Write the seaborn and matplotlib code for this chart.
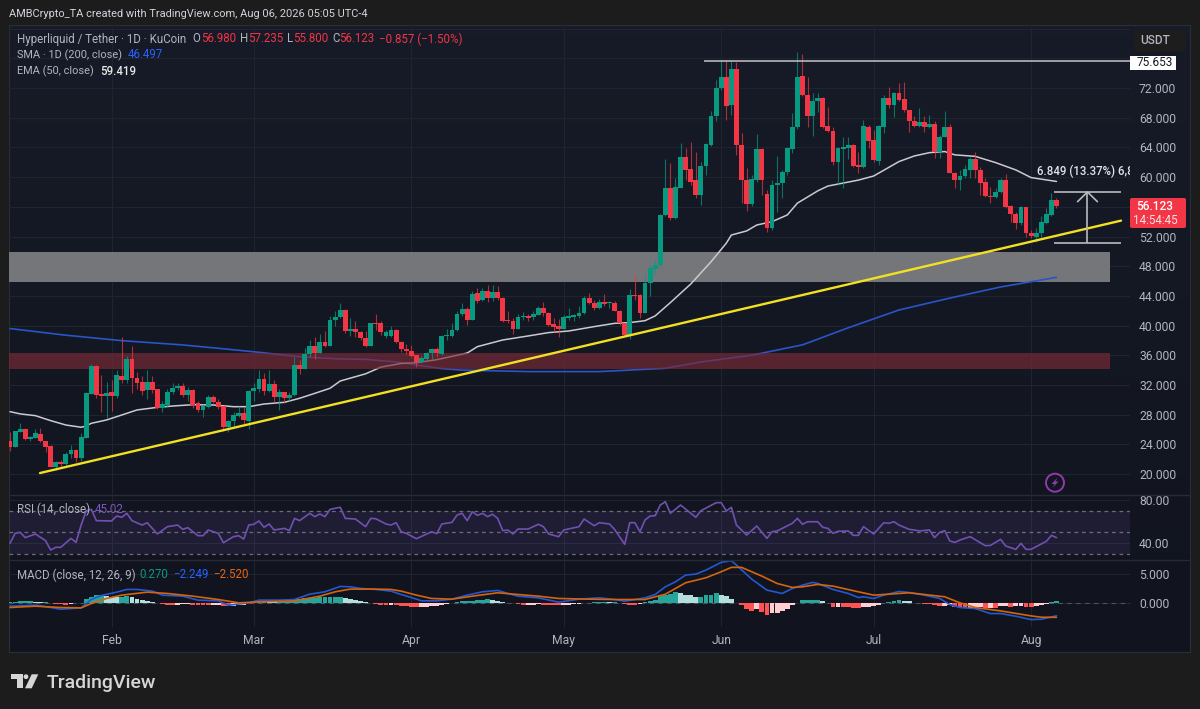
#!/usr/bin/env python3
import numpy as np
import matplotlib
matplotlib.use("Agg")
import matplotlib.pyplot as plt
from matplotlib.colors import LinearSegmentedColormap
from matplotlib.patches import Circle, FancyBboxPatch, Polygon, Rectangle
from matplotlib.transforms import IdentityTransform
import seaborn as sns

# daily candles, Jan 12 to Aug 06
opens = [24.45,23.7,25.7,26.0,24.7,24.9,25.4,24.4,23.8,21.0,
         21.6,21.3,22.65,23.3,22.2,24.9,30.8,34.5,30.8,30.55,
         31.0,30.55,33.25,32.7,35.5,33.0,32.35,31.3,32.4,31.4,
         28.85,29.3,31.05,31.55,31.85,30.65,31.3,29.5,28.6,29.0,
         30.4,29.65,29.1,26.35,27.1,27.85,28.2,27.2,31.15,31.5,
         32.85,31.2,32.1,30.4,31.05,30.2,30.65,34.7,34.15,36.2,
         37.25,36.35,37.8,37.25,40.7,41.2,42.1,39.3,39.5,39.2,
         38.3,37.25,40.3,40.3,38.65,38.6,39.4,37.85,36.8,36.6,
         36.0,35.15,35.5,36.3,36.85,36.2,38.6,38.6,39.4,41.5,
         42.2,40.75,44.35,43.45,44.65,43.75,44.55,43.75,40.65,40.65,
         39.6,41.1,41.3,41.1,41.45,42.4,41.65,40.15,39.95,39.6,
         41.05,41.1,41.35,41.65,43.65,43.1,42.4,43.2,43.0,43.0,
         42.0,40.3,38.75,44.1,44.1,41.75,45.7,47.65,48.1,54.9,
         58.5,54.55,58.6,62.75,61.05,59.6,57.6,61.55,64.35,68.25,
         72.0,73.45,69.7,74.55,64.35,59.6,56.4,59.6,63.75,57.7,
         53.2,58.9,59.2,60.65,63.8,66.7,73.6,71.1,68.25,70.2,
         70.7,66.9,66.15,62.1,63.8,63.98,64.35,61.65,61.35,66.8,
         65.0,62.2,66.8,70.6,69.7,71.3,70.5,69.05,67.55,66.9,
         67.4,66.7,67.15,63.35,65.45,66.8,60.6,59.6,60.1,61.0,
         62.4,60.9,59.35,57.4,57.3,58.05,59.6,56.1,55.05,53.8,
         55.95,52.5,52.0,52.45,53.8,54.9,56.98]
highs = [25.7,25.8,26.9,26.15,25.1,26.0,26.2,24.5,23.9,21.8,
         21.9,23.0,23.9,23.4,25.5,31.0,34.8,34.7,33.3,32.4,
         32.6,34.0,38.5,35.9,37.2,33.7,33.2,34.0,33.2,31.5,
         29.9,31.4,32.3,32.3,32.3,31.7,31.4,29.9,29.4,30.6,
         30.7,30.1,29.2,27.3,28.4,29.1,29.0,31.3,32.3,34.0,
         33.6,34.0,32.7,31.5,31.1,31.0,35.7,35.3,37.0,38.0,
         38.5,38.8,39.3,41.3,42.0,43.0,42.2,41.0,40.6,39.3,
         39.3,40.4,41.6,40.6,39.4,39.9,39.6,37.9,37.5,37.4,
         36.1,35.9,36.5,37.0,37.1,38.7,39.6,40.4,41.9,43.0,
         42.5,44.6,45.0,45.1,45.4,45.4,45.3,43.9,41.9,41.0,
         41.6,41.8,41.5,41.9,42.6,43.2,41.8,41.0,40.9,41.4,
         42.3,41.6,42.7,44.0,44.4,43.4,43.6,44.2,43.3,43.3,
         42.1,40.4,44.9,46.8,44.3,47.0,48.2,49.0,55.1,62.5,
         61.9,59.85,64.55,63.9,64.8,63.35,62.1,64.55,68.9,73.1,
         75.8,75.6,75.6,75.5,65.9,61.2,60.3,65.8,63.9,58.3,
         59.6,62.8,61.0,64.1,68.6,76.8,76.6,73.55,71.3,71.4,
         70.8,69.5,66.8,64.1,65.45,65.45,64.4,63.45,67.7,67.0,
         66.35,67.05,71.1,72.2,71.5,72.65,72.85,69.1,68.3,69.3,
         68.3,68.4,67.5,65.7,68.85,67.2,60.7,61.0,61.65,62.75,
         63.45,61.3,59.85,58.7,58.6,59.85,60.4,56.2,55.35,56.05,
         56.0,52.9,53.1,54.7,55.8,57.9,57.235]
lows = [23.15,23.7,25.6,24.6,24.5,24.8,24.3,23.0,21.0,20.5,
        21.0,20.9,22.2,21.6,21.8,24.9,30.8,30.2,28.4,27.5,
        28.5,30.3,32.2,32.3,30.9,31.4,30.7,30.1,30.9,28.8,
        28.3,29.0,30.8,31.3,30.4,29.9,28.9,28.4,27.7,28.9,
        29.5,28.8,25.8,25.7,26.5,27.7,26.7,26.0,29.9,31.0,
        30.7,31.0,29.7,28.6,29.5,29.8,30.5,33.5,34.1,35.8,
        35.5,36.3,37.1,37.2,40.0,41.0,39.0,38.6,38.5,38.1,
        37.1,37.2,39.4,38.7,38.3,38.4,37.7,36.5,36.2,35.7,
        34.4,35.0,35.3,35.5,35.7,36.0,38.0,38.4,39.3,41.3,
        40.1,40.7,43.0,43.3,43.2,43.3,43.5,40.5,40.4,38.8,
        39.5,40.8,40.6,40.8,41.4,41.3,39.9,39.1,38.5,39.5,
        40.7,40.6,41.0,41.5,42.9,42.1,42.2,42.6,42.4,41.9,
        40.1,38.6,38.2,43.5,41.0,41.7,44.0,47.0,47.9,54.8,
        54.2,54.3,58.5,59.6,58.95,57.2,56.25,60.3,64.2,67.5,
        71.8,67.7,68.4,63.0,56.5,55.5,56.1,59.4,57.6,52.65,
        52.9,55.35,57.15,60.3,63.2,66.5,70.9,66.8,65.6,68.8,
        66.6,66.05,61.65,58.95,58.5,62.5,61.3,60.5,61.2,63.9,
        62.1,61.65,65.9,69.3,68.15,70.2,68.8,66.1,66.8,66.7,
        66.05,66.6,62.55,62.55,65.4,60.5,58.5,58.2,59.85,59.85,
        59.85,57.6,57.3,56.5,57.15,57.9,55.9,54.0,53.0,53.6,
        51.9,51.8,51.2,52.0,53.7,54.8,55.8]
closes = [23.68,25.8,26.0,24.7,25.0,25.5,24.4,23.7,21.0,21.6,
          21.4,22.7,23.2,22.2,25.0,30.9,34.5,30.7,30.55,30.9,
          30.5,33.3,32.7,35.5,33.0,32.3,31.2,32.4,31.3,28.85,
          29.4,31.1,31.6,31.85,30.65,31.3,29.3,28.6,29.1,30.4,
          29.65,29.0,26.3,27.15,27.95,28.2,27.3,31.2,31.55,32.85,
          31.2,32.1,30.4,31.1,30.2,30.7,34.7,34.15,36.2,37.25,
          36.35,37.8,37.25,40.75,41.2,42.1,39.3,39.5,39.1,38.3,
          37.25,40.3,40.25,39.1,39.2,39.4,37.85,36.8,36.6,35.9,
          35.05,35.6,36.35,36.85,36.25,38.6,38.75,39.4,41.55,42.2,
          40.75,44.25,43.35,44.65,43.75,44.55,43.75,40.6,40.6,39.6,
          41.2,41.3,41.05,41.5,42.4,41.65,40.1,39.85,39.6,41.2,
          41.35,41.4,41.75,43.65,43.1,42.4,43.2,42.85,43.1,42.0,
          40.3,38.75,44.1,44.05,41.75,45.7,47.7,48.1,54.9,58.5,
          54.55,58.65,62.75,61.0,59.4,57.6,61.55,64.4,68.25,72.0,
          73.45,69.65,74.55,64.35,59.6,56.4,59.7,63.75,59.6,53.2,
          58.95,59.25,60.75,63.9,66.8,73.55,71.1,68.25,70.25,70.7,
          66.8,66.15,62.1,63.9,64.1,64.35,61.55,61.35,66.9,64.9,
          62.3,66.9,70.6,69.7,71.3,70.4,69.05,67.5,66.9,67.4,
          66.7,67.2,63.35,65.45,66.8,60.6,59.6,60.15,61.05,62.4,
          60.9,59.25,57.4,57.3,58.05,59.6,56.0,55.05,53.8,55.95,
          52.45,52.05,52.5,53.9,55.0,56.95,56.123]

ema_idx = [0,2,5,8,11,14,15,16,19,22,25,29,32,36,40,44,47,50,54,57,60,63,65,
           70,73,77,80,84,90,92,97,102,106,110,115,119,122,125,127,130,134,138,
           141,142,145,147,150,153,155,159,161,167,170,175,178,181,184,186,190,
           194,198,201,206]
ema_vals = [28.4,28.1,27.86,27.19,26.6,26.3,26.47,26.83,27.28,27.95,28.63,28.98,
            29.16,29.34,29.3,29.07,29.07,29.43,29.66,30.2,30.87,31.55,32.53,
            33.5,34.4,34.9,35.0,35.4,36.3,37.16,38.06,38.6,39.05,39.27,39.86,
            40.3,40.4,40.66,41.3,43.1,45.6,48.6,51.1,52.2,52.75,53.55,54.0,54.9,
            56.5,58.15,58.8,59.6,60.15,62.1,62.85,63.3,63.45,63.0,62.8,61.96,
            60.97,59.94,59.419]

sma_idx = [0,11,22,34,41,49,57,65,70,76,80,85,89,102,116,129,136,146,156,165,175,185,195,206]
sma_vals = [39.6,38.7,37.97,37.39,36.94,36.4,35.8,35.5,35.45,35.1,34.7,34.2,34.0,
            33.8,33.8,34.24,35.1,36.0,37.4,39.7,42.1,43.7,45.2,46.497]

rsi_idx = [0,1,2,3,5,7,8,9,10,12,13,14,15,16,17,20,21,22,23,24,26,27,29,31,33,34,35,
           37,38,39,41,42,44,45,46,47,48,49,50,51,52,54,55,56,57,59,60,61,62,63,65,66,
           68,70,71,72,74,75,76,77,78,80,83,84,85,87,88,89,90,91,92,93,94,95,96,97,98,
           99,100,102,104,105,106,108,109,112,113,115,116,118,119,121,122,123,124,125,
           126,127,128,129,130,132,135,136,139,140,141,142,143,145,147,149,150,151,154,
           155,156,157,159,160,161,162,163,165,166,167,168,170,172,173,174,175,177,178,
           179,181,182,183,184,185,186,187,189,192,193,195,196,198,199,200,201,203,204,
           205,206]
rsi_vals = [39.7,49,49.9,45,48.4,42.2,33.5,36,36,44.3,40.6,56.7,70,71.3,60.8,60.5,65.1,
            63.9,67.6,60.8,56.7,58.9,48.4,55.2,56.7,52.7,54.3,46.8,46.8,52.1,49,40.3,
            45.9,46.8,43.7,56.7,57.4,60.5,54.6,57.7,52.1,53.6,51.5,62.9,60.8,67.6,64.5,
            67,64.5,71.3,73.2,62.9,62.3,55.2,62.9,62.6,57.7,56.7,58.9,50.5,49,44,50.5,
            48.7,57.7,59.2,66,67.6,60.8,69.1,65.7,67.6,64.5,66.7,62.9,51.5,52.1,48.4,
            53,53,57.4,55.2,48.4,45.9,52.1,55.2,62.3,56.1,58.9,57.7,52.7,38.8,58.9,58.9,
            50.5,61.4,65.1,65.4,75.3,78.4,67.6,75.3,63.9,70,77.5,77.5,69.8,73.2,56.7,
            47.4,55.8,44.3,50.5,51.2,58.3,63,57.4,59.8,59.8,54.6,53.6,49,50.9,51.2,47.1,
            47.1,55.2,48.4,58.9,58.3,59.8,56.7,52.7,52.1,51.2,52.1,45,49.9,51.5,41.9,
            40.6,42.8,45.9,37.5,37.8,43.4,37.2,34.1,39.7,34.1,34.1,39.1,41.6,47.1,45.02]

macd_idx = [0,5,8,10,14,16,18,21,23,25,28,30,34,37,41,43,47,49,53,56,59,62,65,67,69,72,75,
            77,79,81,84,87,90,93,96,98,100,104,108,112,116,119,121,125,127,129,131,133,135,
            137,140,142,143,146,149,152,154,156,158,159,162,165,167,168,170,172,175,177,180,
            183,185,187,190,193,195,198,201,203,206]
macd_vals = [-0.58,-0.41,-0.81,-1.11,-0.87,0.58,1.28,1.86,2.33,2.33,2.04,1.34,1.16,0.47,
             0.35,-0.41,0,0.47,0.47,0.58,1.51,1.92,2.85,2.79,2.5,2.33,2.04,1.45,0.93,0.35,
             0.35,0.64,1.34,1.92,2.15,1.63,1.16,0.87,0.12,0.64,0.87,0.58,0.29,0.87,1.45,
             2.79,3.66,4.83,5.0,5.7,7.04,7.33,6.57,4.13,2.21,1.63,2.5,3.08,3.55,3.37,2.33,
             1.63,0.93,1.05,0.76,1.34,1.98,1.8,1.34,0.76,-0.29,-0.81,-0.99,-1.86,-1.86,
             -2.33,-2.91,-2.85,-2.249]
signal_idx = [0,5,10,14,16,19,22,27,31,36,41,45,49,56,61,64,67,72,75,77,80,83,87,91,96,100,
              104,108,114,119,125,129,133,137,140,142,144,148,151,154,156,159,162,167,170,
              173,177,184,187,190,195,201,203,206]
signal_vals = [-0.81,-0.58,-0.81,-0.87,-0.12,0.76,1.34,1.86,1.63,1.16,0.58,0,0.17,0.35,1.16,
               1.92,2.39,2.39,2.33,2.04,1.34,0.76,0.64,1.16,1.75,1.45,1.16,0.76,0.64,0.58,
               0.58,1.51,3.49,4.36,5.41,6.17,6.17,4.65,3.37,2.68,2.79,3.2,2.91,1.92,1.34,
               1.51,1.75,1.05,0,-0.81,-1.4,-2.27,-2.5,-2.52]
hist_vals = [.2,.2,.25,.25,.25,.15,.1,.1,-.1,-.2,-.25,-.3,-.2,-.1,-.1,
             .6,1.1,1.3,1.3,1.2,1.1,1.0,1.0,1.2,.95,.7,.5,.3,.15,.05,
             -.2,-.3,-.35,-.3,-.25,-.2,-.3,-.35,-.4,-.45,-.45,-.4,-.5,-.6,-.55,-.45,-.35,-.1,
             .1,.3,.3,.25,.2,.2,.3,.35,.6,.7,.8,.9,.9,.95,1.0,1.0,1.05,1.1,
             .85,.6,.45,.3,.1,-.1,-.2,-.3,-.4,-.4,
             -.45,-.5,-.6,-.7,-.8,-.75,-.7,-.6,-.5,-.3,-.15,-.05,
             .1,.25,.35,.4,.5,.55,.6,.55,.4,.2,.05,
             -.1,-.25,-.3,-.3,-.3,-.25,-.3,-.35,-.4,-.45,-.45,-.35,-.25,-.15,-.05,
             .05,.1,.15,.15,.1,.1,.05,-.2,-.3,-.35,-.2,
             .1,.3,.5,1.2,1.3,1.5,1.9,1.65,1.45,1.3,1.05,1.05,1.3,1.35,1.65,1.3,1.2,.6,.05,
             -.4,-1.15,-1.4,-1.15,-1.55,-2.05,-1.85,-1.7,-1.45,-1.0,-.4,-.05,
             .45,.45,.5,.55,.3,.05,
             -.7,-.7,-.75,-.8,-.85,-.95,-.8,-.7,-.6,-.4,-.1,
             .2,.4,.45,.35,.25,.05,
             -.1,-.15,-.2,-.4,-.6,-.5,-.4,-.7,-.85,-.9,-.85,-.8,-.8,-.85,-.85,-.9,-.6,-.6,
             -.65,-.6,-.6,-.65,-.7,-.6,-.35,-.2,.2,.27]

month_ticks = [20, 48, 79, 109, 140, 170, 201]
month_labels = ["Feb", "Mar", "Apr", "May", "Jun", "Jul", "Aug"]
price_ticks = list(range(20, 84, 4))
hidden_prices = [56, 76, 80]  # sit under the price tags and the USDT button

trend_x = [5.9, 218.7]
trend_y = [20.13, 54.14]
gray_band = (45.9, 49.92)
red_band = (34.15, 36.35)
band_end = 216.5
resistance = 75.653
measure_hi = 58.0
measure_lo = 51.17

UP = "#089981"
DOWN = "#f23645"
GRID = "#1f2431"
TXT = "#b2b5be"
W, H = 1200, 709


def px(x, y):
    return x / W, 1 - y / H


def add_pane(left, top, right, bottom):
    return fig.add_axes([left / W, 1 - bottom / H, (right - left) / W, (bottom - top) / H])


def note(x, y, s, color=TXT, size=8.3, **kw):
    fig.text(*px(x, y), s, color=color, fontsize=size, va="center", **kw)


sns.set_theme(style="dark")
plt.rcParams["font.family"] = ["Roboto", "DejaVu Sans"]

fig = plt.figure(figsize=(12, 7.09), dpi=100, facecolor="#1c1c1c")

bg = add_pane(9, 25, 1190, 652)
pane_cmap = LinearSegmentedColormap.from_list("pane", ["#161b27", "#11141e"])
bg.imshow(np.linspace(0, 1, 64).reshape(-1, 1), cmap=pane_cmap, aspect="auto")
bg.set_xticks([])
bg.set_yticks([])
for s in bg.spines.values():
    s.set_color("#2a2e39")
    s.set_linewidth(0.8)

ax = add_pane(9, 25, 1130, 495)
ax_rsi = add_pane(9, 495, 1130, 560)
ax_macd = add_pane(9, 560, 1130, 627)

for a in (ax, ax_rsi, ax_macd):
    a.set_facecolor("none")
    a.set_xlim(-0.2, 220.47)
    a.set_xticks(month_ticks)
    a.yaxis.tick_right()
    a.tick_params(axis="y", length=0, pad=6.5, labelsize=8.7, labelcolor=TXT)
    a.grid(True, color=GRID, linewidth=0.8)
    a.set_axisbelow(True)
    for s in a.spines.values():
        s.set_visible(False)

x = np.arange(len(opens))
o = np.array(opens)
c = np.array(closes)
colors = [UP if b >= a else DOWN for a, b in zip(opens, closes)]

ax.fill_between([-0.2, band_end], *gray_band, color="#74767a", linewidth=0, zorder=1.5)

sns.lineplot(x=sma_idx, y=sma_vals, ax=ax, color="#2a55c8", linewidth=1.2, zorder=2, errorbar=None)
sns.lineplot(x=ema_idx, y=ema_vals, ax=ax, color="#c9cbcf", linewidth=1.1, zorder=2, errorbar=None)

ax.fill_between([-0.2, band_end], *red_band, color="#7c2a36", alpha=0.65, linewidth=0, zorder=3)

ax.vlines(x, lows, highs, colors=colors, linewidth=0.8, alpha=0.7, zorder=4)
body = np.where(np.abs(c - o) < 0.12, 0.12, np.abs(c - o))
ax.bar(x, body, bottom=np.minimum(o, c), width=0.95, color=colors, linewidth=0, zorder=5)

sns.lineplot(x=trend_x, y=trend_y, ax=ax, color="#f4e022", linewidth=1.7, zorder=6, errorbar=None)
ax.hlines(resistance, 136.6, 220.47, color="#c4c6ca", linewidth=1.1, zorder=6)
ax.hlines([measure_hi, measure_lo], 205.5, 218.7, color="#b9bbbf", linewidth=1.2, zorder=6)
ax.vlines(212.1, measure_lo, measure_hi, color="#b9bbbf", linewidth=1.2, zorder=6)
ax.plot([210.15, 212.1, 214.05], [measure_hi - 1.3, measure_hi, measure_hi - 1.3],
        color="#b9bbbf", linewidth=1.2, zorder=6)
ax.text(202.1, 60.74, "6.849 (13.37%) 6,84", color="#e0e3eb", fontsize=8.3, va="center",
        fontweight="medium", clip_on=True, zorder=7)

ax.set_ylim(17.17, 80.5)
ax.set_yticks(price_ticks)
ax.set_yticklabels(["" if t in hidden_prices else f"{t:.3f}" for t in price_ticks])
ax.tick_params(axis="x", labelbottom=False, length=0)
ax.set_xlabel("")

# rsi pane
ax_rsi.axhspan(30, 70, color="#7e57c2", alpha=0.13, linewidth=0)
ax_rsi.hlines([30, 50, 70], -0.2, 220.47, color="#6a6d78", linewidth=0.9, linestyles=(0, (3, 3)))
sns.lineplot(x=rsi_idx, y=rsi_vals, ax=ax_rsi, color="#7050b0", linewidth=1.2, errorbar=None)
ax_rsi.set_ylim(24.2, 84.65)
ax_rsi.set_yticks([40, 80])
ax_rsi.set_yticklabels(["40.00", "80.00"])
ax_rsi.tick_params(axis="x", labelbottom=False, length=0)

# macd pane
hist_colors = []
for i, v in enumerate(hist_vals):
    prev = hist_vals[i - 1] if i else v
    if v >= 0:
        hist_colors.append("#26a69a" if v >= prev else "#b2dfdb")
    else:
        hist_colors.append("#ffcdd2" if v >= prev else "#ff5252")
ax_macd.bar(np.arange(len(hist_vals)), hist_vals, width=0.95, color=hist_colors, linewidth=0, zorder=2)
ax_macd.hlines(0, -0.2, 220.47, color="#50535e", linewidth=0.8, linestyles=(0, (4, 4)), zorder=1)
sns.lineplot(x=macd_idx, y=macd_vals, ax=ax_macd, color="#2558d0", linewidth=1.2, zorder=3, errorbar=None)
sns.lineplot(x=signal_idx, y=signal_vals, ax=ax_macd, color="#d5640f", linewidth=1.2, zorder=4, errorbar=None)
ax_macd.set_ylim(-4.2, 7.45)
ax_macd.set_yticks([0, 5])
ax_macd.set_yticklabels(["0.000", "5.000"])
ax_macd.set_xticklabels(month_labels)
ax_macd.tick_params(axis="x", length=0, pad=5, labelsize=8.7, labelcolor=TXT)

# pane separators
for yy in (495, 560):
    fig.add_artist(plt.Line2D([9 / W, 1190 / W], [1 - yy / H] * 2, color="#262a35", linewidth=1))

# header texts
note(9, 14, "AMBCrypto_TA created with TradingView.com, Aug 06, 2026 05:05 UTC-4", color="#d1d4dc", size=7.95)
note(16.7, 39, "Hyperliquid / Tether · 1D · KuCoin")
for xp, s, col in [(192.7, "O", TXT), (200.7, "56.980", DOWN), (240, "H", TXT), (248, "57.235", DOWN),
                   (287.3, "L", TXT), (293.3, "55.800", DOWN), (332.3, "C", TXT), (339.3, "56.123", DOWN),
                   (379.3, "−0.857 (−1.50%)", DOWN)]:
    note(xp, 39, s, color=col)
note(16.7, 55, "SMA · 1D (200, close)", size=7.9)
note(128, 55, "46.497", color="#2962ff")
note(16.7, 71.5, "EMA (50, close)", size=7.9)
note(99.7, 71.5, "59.419", color="#e8e8e8", fontweight="medium")
note(16.7, 509.3, "RSI (14, close)")
note(95, 509.3, "45.02", color="#7e57c2")
note(16.7, 575, "MACD (close, 12, 26, 9)")
note(139, 575, "0.270", color=UP)
note(173.3, 575, "−2.249", color="#2962ff")
note(212.7, 575, "−2.520", color="#e8650f")

# right side price tags
fig.add_artist(Rectangle(px(1130, 70), 46 / W, 14.3 / H, transform=fig.transFigure,
                         facecolor="white", edgecolor="none"))
note(1155, 63, "75.653", color="#131722", ha="center", size=8.6)
fig.add_artist(FancyBboxPatch(px(1130, 228), 56 / W, 30 / H, transform=fig.transFigure,
                              boxstyle="round,pad=0,rounding_size=0.002",
                              facecolor=DOWN, edgecolor="none"))
note(1155, 206.5, "56.123", color="white", ha="center", fontweight="medium", size=8.6)
note(1155, 220, "14:54:45", color="#fde0e3", ha="center", size=8.4)
fig.add_artist(FancyBboxPatch(px(1134, 52), 52 / W, 22 / H, transform=fig.transFigure,
                              boxstyle="round,pad=0,rounding_size=0.004",
                              facecolor="#1e1d1d", edgecolor="none"))
note(1155, 40.5, "USDT", color=TXT, ha="center", fontweight="medium", size=8.6)

# lightning badge
fig.add_artist(Circle((1055, H - 482.7), 9, transform=IdentityTransform(),
                      facecolor="none", edgecolor="#8e3aa8", linewidth=1.4))
bolt = [(1057.5, 477.5), (1051.5, 484), (1054.6, 484), (1052.5, 488), (1058.5, 481.5), (1055.4, 481.5)]
fig.add_artist(Polygon([(a, H - b) for a, b in bolt], transform=IdentityTransform(),
                       facecolor="#8e3aa8", edgecolor="none"))

# TradingView wordmark
t_shape = [(11, 674.3), (22.7, 674.3), (22.7, 688.3), (16.7, 688.3), (16.7, 679.3), (11, 679.3)]
slant = [(31.7, 674.3), (38.3, 674.3), (31.7, 688.3), (25, 688.3)]
for shape in (t_shape, slant):
    fig.add_artist(Polygon([(a, H - b) for a, b in shape], transform=IdentityTransform(),
                           facecolor="#d6d6d6", edgecolor="none"))
fig.add_artist(Circle((26, H - 676.7), 2.4, transform=IdentityTransform(), facecolor="#d6d6d6", edgecolor="none"))
fig.text(*px(46.5, 688), "TradingView", color="#d6d6d6", fontsize=14, family="Roboto",
         fontweight="medium", va="baseline")

fig.savefig("out.png", dpi=100, facecolor=fig.get_facecolor())
